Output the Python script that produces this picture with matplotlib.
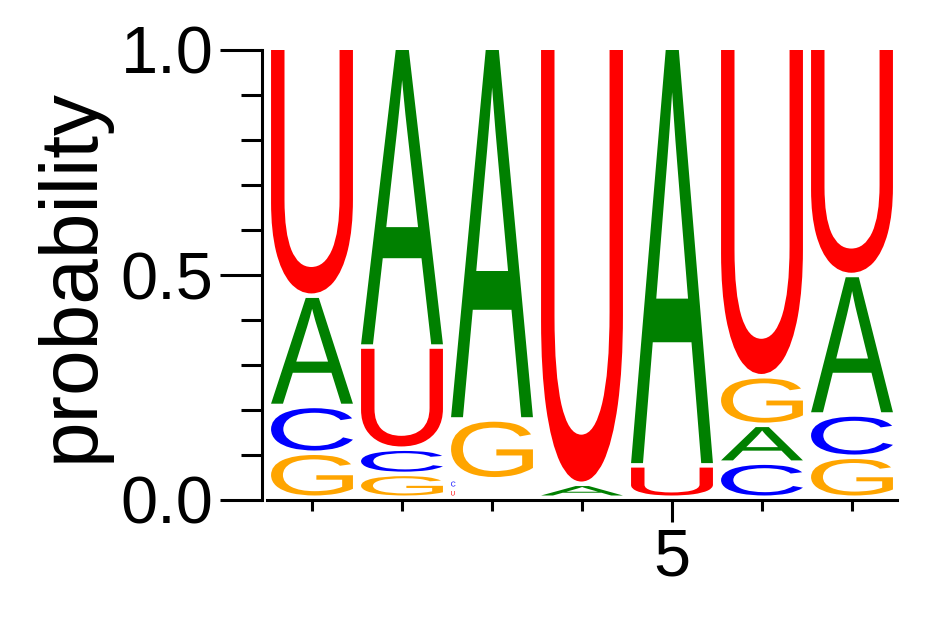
import matplotlib
matplotlib.use("Agg")
import matplotlib.pyplot as plt
from matplotlib.textpath import TextPath
from matplotlib.font_manager import FontProperties
from matplotlib.patches import PathPatch
from matplotlib.transforms import Affine2D
from matplotlib.ticker import MultipleLocator, FixedLocator

# ---- data ----
positions = [1, 2, 3, 4, 5, 6, 7]
prob_A = [0.245, 0.664, 0.826, 0.031, 0.928, 0.084, 0.310]
prob_C = [0.104, 0.056, 0.021, 0.000, 0.000, 0.078, 0.094]
prob_G = [0.100, 0.053, 0.133, 0.000, 0.000, 0.108, 0.091]
prob_U = [0.551, 0.227, 0.020, 0.969, 0.072, 0.730, 0.505]
letter_colors = {'A': '#008000', 'C': '#0000FF', 'G': '#FFA500', 'U': '#FF0000'}
xtick_major = [5]
xtick_minor = [1, 2, 3, 4, 6, 7]
ytick_major = [0.0, 0.5, 1.0]
ytick_labels = ['0.0', '0.5', '1.0']

W, H, DPI = 9.42, 6.17, 100
fig = plt.figure(figsize=(W, H), dpi=DPI)
ax = fig.add_axes([267 / 942, 117 / 617, 630 / 942, 450 / 617])
ax.set_xlim(0.5, 7.5)
ax.set_ylim(0, 1)

font = FontProperties(family='Liberation Sans', weight='normal')
col_w = 0.91
gap = 0.01
ax_w_px = 630.0
ax_h_px = 450.0
px_per_x = ax_w_px / 7.0
px_per_y = ax_h_px / 1.0

probs = {'A': prob_A, 'C': prob_C, 'G': prob_G, 'U': prob_U}
for i, pos in enumerate(positions):
    items = [(probs[l][i], l) for l in ['G', 'C', 'A', 'U', ]]
    items = [it for it in items if it[0] > 0]
    items.sort(key=lambda t: t[0])
    y0 = 0.0
    for h, letter in items:
        tp = TextPath((0, 0), letter, size=1, prop=font)
        ext = tp.get_extents()
        gh = h - gap
        if gh < 0.02:
            # tiny letter: keep natural aspect, placed at the left of the column
            gh_px = gh * px_per_y
            gw_px = gh_px * ext.width / ext.height
            gw = gw_px / px_per_x
            x_left = pos - col_w / 2
        else:
            gw = col_w
            x_left = pos - col_w / 2
        tr = (Affine2D()
              .translate(-ext.x0, -ext.y0)
              .scale(gw / ext.width, gh / ext.height)
              .translate(x_left, y0 + gap))
        path = tr.transform_path(tp)
        ax.add_patch(PathPatch(path, facecolor=letter_colors[letter],
                               edgecolor='none', lw=0))
        y0 += h

# ---- axes styling ----
for s in ['top', 'right']:
    ax.spines[s].set_visible(False)
ax.spines['left'].set_position(('outward', 3.5))
ax.spines['left'].set_linewidth(2.2)
ax.spines['bottom'].set_linewidth(2.2)

ax.yaxis.set_major_locator(FixedLocator(ytick_major))
ax.set_yticklabels(ytick_labels)
ax.yaxis.set_minor_locator(MultipleLocator(0.1))
ax.xaxis.set_major_locator(FixedLocator(xtick_major))
ax.xaxis.set_minor_locator(FixedLocator(xtick_minor))

ax.tick_params(axis='y', which='major', length=30, width=2.2, pad=5,
               labelsize=48)
ax.tick_params(axis='y', which='minor', length=15, width=2.2)
ax.tick_params(axis='x', which='major', length=16, width=2.2, pad=4,
               labelsize=48)
ax.tick_params(axis='x', which='minor', length=8, width=2.2)
for lab in ax.get_xticklabels() + ax.get_yticklabels():
    lab.set_family('Liberation Sans')

ax.set_ylabel('probability', fontsize=59, family='Liberation Sans')
ax.yaxis.set_label_coords(-0.25, 0.5)

fig.savefig('out.png', dpi=DPI)
